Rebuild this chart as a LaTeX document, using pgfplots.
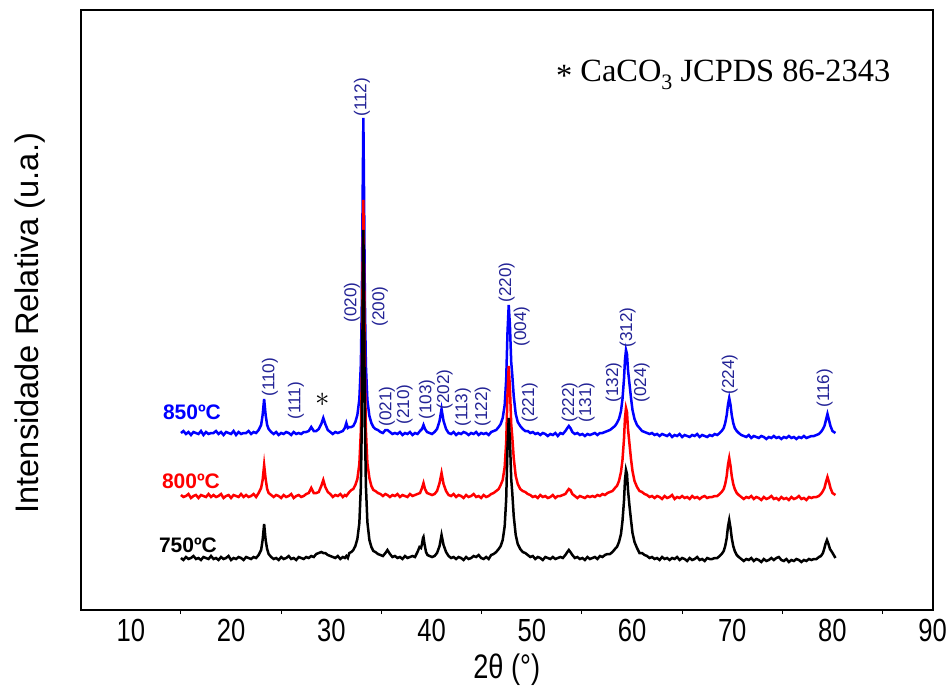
\documentclass[border=0pt]{standalone}
\usepackage{fontspec}
\setmainfont{Liberation Sans}
\newfontfamily\narrowfont{Liberation Sans}[FakeStretch=0.8]
\newfontfamily\timesfont{Liberation Serif}
\usepackage{pgfplots}
\usepackage{pgfplotstable}
\pgfplotsset{compat=1.18}
\definecolor{hklblue}{RGB}{35,35,150}
\tikzset{hkl/.style={rotate=90, anchor=west, inner sep=0pt, text=hklblue, font=\fontsize{8.6}{9}\selectfont}}
\pgfplotstableread{
x y
15.0 177
15.25 179
15.5 176
15.75 178
16.0 175
16.25 178
16.5 177
16.75 176
17.0 179
17.25 175
17.5 178
17.75 176
18.0 177
18.25 177
18.5 179
18.75 176
19.0 178
19.25 175
19.5 178
19.75 177
20.0 176
20.25 179
20.5 175
20.75 178
21.0 176
21.25 177
21.5 177
21.75 179
22.0 176
22.25 178
22.5 177
22.75 180
23.0 185
23.15 195
23.3 211
23.45 195
23.6 185
23.75 181
24.0 178
24.25 176
24.5 178
24.75 175
25.0 177
25.25 176
25.5 178
25.75 177
26.0 175
26.25 178
26.5 176
26.75 177
27.0 176
27.25 178
27.5 178
27.75 179
28.0 183
28.25 179
28.5 179
28.75 181
29.0 186
29.2 192
29.4 186
29.65 180
29.9 178
30.15 176
30.4 178
30.65 177
30.9 178
31.15 179
31.35 182
31.5 187
31.65 182
31.8 183
32.0 183
32.2 184
32.4 188
32.6 195
32.8 211
32.95 246
33.05 311
33.12 406
33.2 492
33.28 405
33.35 310
33.45 245
33.6 210
33.8 194
34.0 187
34.2 183
34.4 181
34.65 180
34.9 178
35.15 177
35.4 180
35.6 180
35.85 178
36.1 176
36.35 177
36.6 176
36.85 178
37.1 175
37.35 177
37.6 176
37.85 178
38.1 175
38.35 177
38.6 176
38.85 179
39.05 181
39.2 185
39.35 181
39.55 178
39.8 177
40.05 176
40.3 178
40.55 181
40.8 189
41.0 201
41.2 189
41.45 181
41.7 177
41.95 176
42.2 178
42.45 175
42.7 177
42.95 176
43.2 178
43.45 177
43.7 175
43.95 177
44.2 176
44.45 178
44.7 175
44.95 177
45.2 176
45.45 177
45.7 175
45.95 178
46.2 179
46.45 180
46.7 183
46.9 186
47.1 192
47.3 205
47.45 231
47.58 278
47.7 305
47.82 285
47.95 248
48.05 236
48.2 214
48.4 196
48.6 188
48.85 184
49.1 181
49.35 179
49.6 179
49.85 177
50.1 178
50.35 176
50.6 177
50.85 175
51.1 177
51.35 176
51.6 174
51.85 176
52.1 175
52.35 177
52.6 174
52.85 177
53.1 176
53.35 179
53.55 182
53.7 184
53.85 182
54.05 178
54.3 176
54.55 177
54.8 175
55.05 176
55.3 174
55.55 176
55.8 175
56.05 176
56.3 177
56.55 175
56.8 177
57.05 177
57.3 178
57.55 179
57.8 180
58.05 182
58.3 184
58.5 187
58.7 191
58.9 199
59.05 211
59.2 231
59.3 250
59.4 260
59.5 256
59.6 240
59.75 226
59.9 212
60.05 200
60.25 191
60.5 185
60.75 182
61.0 179
61.25 178
61.5 177
61.75 176
62.0 177
62.25 175
62.5 176
62.75 174
63.0 176
63.25 175
63.5 174
63.75 176
64.0 173
64.25 175
64.5 174
64.75 176
65.0 173
65.25 175
65.5 174
65.75 173
66.0 175
66.25 174
66.5 176
66.75 173
67.0 175
67.25 174
67.5 173
67.75 175
68.0 174
68.25 176
68.5 175
68.75 177
68.95 179
69.15 182
69.3 187
69.45 195
69.57 205
69.7 212
69.83 205
69.95 195
70.1 187
70.25 182
70.45 179
70.65 177
70.9 175
71.15 174
71.4 173
71.65 175
71.9 172
72.15 174
72.4 173
72.65 172
72.9 174
73.15 173
73.4 171
73.65 173
73.9 172
74.15 174
74.4 172
74.65 173
74.9 171
75.15 173
75.4 172
75.65 174
75.9 172
76.15 173
76.4 171
76.65 173
76.9 172
77.15 174
77.4 172
77.65 173
77.9 174
78.15 174
78.4 175
78.65 176
78.85 178
79.05 181
79.2 184
79.35 190
79.5 196
79.65 190
79.8 184
80.0 179
80.3 177
}\tblue
\pgfplotstableread{
x y
15.0 115
15.25 113
15.5 114
15.75 116
16.0 112
16.25 114
16.5 115
16.75 112
17.0 115
17.25 114
17.5 113
17.75 116
18.0 113
18.25 115
18.5 113
18.75 114
19.0 116
19.25 112
19.5 114
19.75 115
20.0 112
20.25 115
20.5 114
20.75 113
21.0 116
21.25 113
21.5 115
21.75 113
22.0 114
22.25 116
22.5 113
22.75 117
23.0 122
23.15 130
23.3 145
23.45 131
23.6 121
23.75 117
24.0 115
24.25 113
24.5 115
24.75 114
25.0 112
25.25 115
25.5 113
25.75 114
26.0 116
26.25 112
26.5 114
26.75 115
27.0 113
27.25 114
27.5 116
27.75 117
28.0 122
28.25 117
28.5 117
28.75 118
29.0 124
29.2 130
29.4 123
29.65 118
29.9 116
30.15 113
30.4 115
30.65 114
30.9 116
31.15 113
31.35 115
31.5 114
31.65 116
31.8 118
32.0 120
32.2 121
32.4 125
32.6 131
32.8 146
32.95 179
33.05 240
33.12 330
33.2 410
33.28 329
33.35 239
33.45 180
33.6 147
33.8 132
34.0 124
34.2 120
34.4 119
34.65 117
34.9 116
35.15 114
35.4 116
35.6 115
35.85 113
36.1 115
36.35 114
36.6 116
36.85 113
37.1 115
37.35 114
37.6 113
37.85 116
38.1 114
38.35 115
38.6 116
38.85 117
39.05 122
39.2 127
39.35 121
39.55 117
39.8 116
40.05 115
40.3 116
40.55 119
40.8 127
41.0 137
41.2 126
41.45 119
41.7 115
41.95 114
42.2 116
42.45 113
42.7 115
42.95 114
43.2 112
43.45 115
43.7 113
43.95 114
44.2 116
44.45 113
44.7 114
44.95 112
45.2 115
45.45 113
45.7 114
45.95 116
46.2 117
46.45 119
46.7 121
46.9 125
47.1 130
47.3 143
47.45 168
47.58 216
47.7 244
47.82 222
47.95 186
48.05 174
48.2 152
48.4 134
48.6 126
48.85 121
49.1 119
49.35 118
49.6 116
49.85 115
50.1 113
50.35 114
50.6 112
50.85 115
51.1 113
51.35 114
51.6 112
51.85 113
52.1 115
52.35 112
52.6 114
52.85 114
53.1 115
53.35 116
53.55 119
53.7 121
53.85 120
54.05 116
54.3 114
54.55 112
54.8 114
55.05 113
55.3 112
55.55 114
55.8 113
56.05 114
56.3 113
56.55 115
56.8 114
57.05 116
57.3 115
57.55 117
57.8 118
58.05 119
58.3 122
58.5 124
58.7 129
58.9 138
59.05 150
59.2 171
59.3 192
59.4 202
59.5 198
59.6 181
59.75 166
59.9 151
60.05 139
60.25 129
60.5 123
60.75 119
61.0 118
61.25 116
61.5 115
61.75 113
62.0 114
62.25 112
62.5 114
62.75 113
63.0 111
63.25 114
63.5 112
63.75 113
64.0 115
64.25 111
64.5 113
64.75 112
65.0 114
65.25 112
65.5 113
65.75 111
66.0 114
66.25 112
66.5 113
66.75 111
67.0 113
67.25 114
67.5 112
67.75 113
68.0 113
68.25 114
68.5 114
68.75 116
68.95 118
69.15 121
69.3 126
69.45 134
69.57 145
69.7 152
69.83 144
69.95 134
70.1 126
70.25 121
70.45 117
70.65 115
70.9 113
71.15 111
71.4 113
71.65 112
71.9 114
72.15 111
72.4 113
72.65 112
72.9 110
73.15 113
73.4 111
73.65 112
73.9 114
74.15 111
74.4 112
74.65 110
74.9 113
75.15 111
75.4 112
75.65 110
75.9 113
76.15 111
76.4 112
76.65 114
76.9 111
77.15 112
77.4 110
77.65 113
77.9 112
78.15 113
78.4 113
78.65 114
78.85 116
79.05 119
79.2 122
79.35 128
79.5 133
79.65 128
79.8 122
80.0 117
80.3 115
}\tred
\pgfplotstableread{
x y
15.0 52
15.25 50
15.5 53
15.75 51
16.0 52
16.25 54
16.5 51
16.75 52
17.0 50
17.25 53
17.5 52
17.75 51
18.0 54
18.25 51
18.5 52
18.75 50
19.0 53
19.25 51
19.5 52
19.75 54
20.0 50
20.25 52
20.5 51
20.75 53
21.0 52
21.25 50
21.5 53
21.75 52
22.0 51
22.25 53
22.5 52
22.75 55
23.0 60
23.15 70
23.3 86
23.45 70
23.6 61
23.75 56
24.0 53
24.25 51
24.5 52
24.75 50
25.0 53
25.25 51
25.5 52
25.75 54
26.0 51
26.25 52
26.5 50
26.75 53
27.0 52
27.25 51
27.5 53
27.75 52
28.0 54
28.25 53
28.5 56
28.75 57
29.0 58
29.2 57
29.4 57
29.65 55
29.9 54
30.15 53
30.4 52
30.65 54
30.9 51
31.15 53
31.35 52
31.5 54
31.65 52
31.8 57
32.0 58
32.2 60
32.4 64
32.6 71
32.8 87
32.95 124
33.05 191
33.12 290
33.2 380
33.28 289
33.35 190
33.45 125
33.6 88
33.8 70
34.0 63
34.2 59
34.4 58
34.65 56
34.9 55
35.15 54
35.4 57
35.6 60
35.85 56
36.1 53
36.35 54
36.6 52
36.85 53
37.1 51
37.35 54
37.6 52
37.85 53
38.1 54
38.35 53
38.6 58
38.8 63
38.95 62
39.05 66
39.15 72
39.2 73
39.3 66
39.45 58
39.6 55
39.8 54
40.05 53
40.3 54
40.55 57
40.8 64
41.0 75
41.2 65
41.45 58
41.7 54
41.95 52
42.2 53
42.45 51
42.7 53
42.95 52
43.2 50
43.45 53
43.7 51
43.95 52
44.2 54
44.45 53
44.7 55
44.95 52
45.2 51
45.45 53
45.7 51
45.95 55
46.2 56
46.45 58
46.7 61
46.9 64
47.1 70
47.3 84
47.45 111
47.58 163
47.7 192
47.82 170
47.95 131
48.05 118
48.2 94
48.4 75
48.6 66
48.85 61
49.1 58
49.35 57
49.6 55
49.85 53
50.1 54
50.35 51
50.6 53
50.85 52
51.1 50
51.35 53
51.6 52
51.85 51
52.1 53
52.35 51
52.6 52
52.85 53
53.1 52
53.35 55
53.55 58
53.7 60
53.85 58
54.05 55
54.3 52
54.55 53
54.8 51
55.05 52
55.3 50
55.55 53
55.8 51
56.05 52
56.3 53
56.55 51
56.8 54
57.05 53
57.3 55
57.55 56
57.8 56
58.05 58
58.3 61
58.5 63
58.7 68
58.9 76
59.05 89
59.2 109
59.3 130
59.4 140
59.5 136
59.6 120
59.75 104
59.9 90
60.05 77
60.25 68
60.5 62
60.75 57
61.0 57
61.25 55
61.5 54
61.75 52
62.0 53
62.25 51
62.5 52
62.75 50
63.0 53
63.25 51
63.5 52
63.75 50
64.0 52
64.25 51
64.5 53
64.75 50
65.0 52
65.25 51
65.5 49
65.75 52
66.0 50
66.25 51
66.5 53
66.75 50
67.0 51
67.25 49
67.5 52
67.75 51
68.0 51
68.25 52
68.5 52
68.75 54
68.95 56
69.15 59
69.3 64
69.45 72
69.57 83
69.7 90
69.83 82
69.95 72
70.1 64
70.25 59
70.45 55
70.65 53
70.9 51
71.15 49
71.4 51
71.65 50
71.9 52
72.15 49
72.4 51
72.65 50
72.9 48
73.15 51
73.4 49
73.65 50
73.9 52
74.15 50
74.4 52
74.65 53
74.9 50
75.15 49
75.4 51
75.65 48
75.9 50
76.15 49
76.4 51
76.65 50
76.9 48
77.15 50
77.4 49
77.65 51
77.9 50
78.15 51
78.4 51
78.65 53
78.85 54
79.05 57
79.2 62
79.3 66
79.45 70
79.6 66
79.75 61
79.95 58
80.3 52
}\tblack
\begin{document}
\begin{tikzpicture}
\useasboundingbox (0,0) rectangle (475.5pt,342.5pt);
\begin{axis}[
 at={(40.35pt,37.5pt)}, anchor=south west,
 width=426pt, height=300pt, scale only axis,
 xmin=5, xmax=90, ymin=0, ymax=600,
 clip=false,
 axis line style={line width=1pt},
 xtick={10,20,...,90},
 minor xtick={15,25,...,85},
 major tick length=0pt, minor tick length=2pt,
 tick align=outside, xtick pos=bottom,
 ytick=\empty,
 tick style={line width=0.5pt, black},
 xticklabel style={font=\narrowfont\fontsize{16}{16}\selectfont, yshift=-1pt},
 /pgf/number format/assume math mode=true,
 xlabel={2θ (°)},
 xlabel style={font=\narrowfont\fontsize{17}{17}\selectfont, at={(axis description cs:0.5,-0.1)}, anchor=center},
 ylabel={Intensidade Relativa (u.a.)},
 ylabel style={font=\fontsize{16.3}{16.3}\selectfont, at={(axis description cs:-0.0595,0.478)}, anchor=center},
]
\addplot[blue, line width=1.25pt] table {\tblue};
\addplot[red, line width=1.25pt] table {\tred};
\addplot[black, line width=1.25pt] table {\tblack};

\node[hkl] at (axis cs:23.87,213) {(110)};
\node[hkl] at (axis cs:26.47,190) {(111)};
\node[hkl] at (axis cs:32.05,287) {(020)};
\node[hkl] at (axis cs:33.05,493) {(112)};
\node[hkl] at (axis cs:34.84,283) {(200)};
\node[hkl] at (axis cs:35.54,183) {(021)};
\node[hkl] at (axis cs:37.33,185) {(210)};
\node[hkl] at (axis cs:39.53,190) {(103)};
\node[hkl] at (axis cs:41.32,200) {(202)};
\node[hkl] at (axis cs:43.12,183) {(113)};
\node[hkl] at (axis cs:45.11,183) {(122)};
\node[hkl] at (axis cs:47.50,307) {(220)};
\node[hkl] at (axis cs:49.00,263) {(004)};
\node[hkl] at (axis cs:49.80,187) {(221)};
\node[hkl] at (axis cs:53.79,187) {(222)};
\node[hkl] at (axis cs:55.48,187) {(131)};
\node[hkl] at (axis cs:58.17,207) {(132)};
\node[hkl] at (axis cs:59.57,262) {(312)};
\node[hkl] at (axis cs:60.97,207) {(024)};
\node[hkl] at (axis cs:69.74,215) {(224)};
\node[hkl] at (axis cs:79.21,202) {(116)};
\node[font=\fontsize{14}{14}\selectfont] at (axis cs:29.16,210) {$\ast$};

\node[font=\bfseries\fontsize{10.5}{11}\selectfont, text=blue] at (axis cs:16.1,198) {850ºC};
\node[font=\bfseries\fontsize{10.5}{11}\selectfont, text=red] at (axis cs:16.0,129) {800ºC};
\node[font=\bfseries\fontsize{10.5}{11}\selectfont, text=black] at (axis cs:15.7,65) {750ºC};

\node[font=\timesfont\fontsize{16.2}{17}\selectfont] at (axis cs:69.1,535) {\raisebox{-0.3ex}{*} CaCO\raisebox{-0.55ex}{\fontsize{11}{11}\selectfont 3} JCPDS 86-2343};
\end{axis}
\end{tikzpicture}
\end{document}
